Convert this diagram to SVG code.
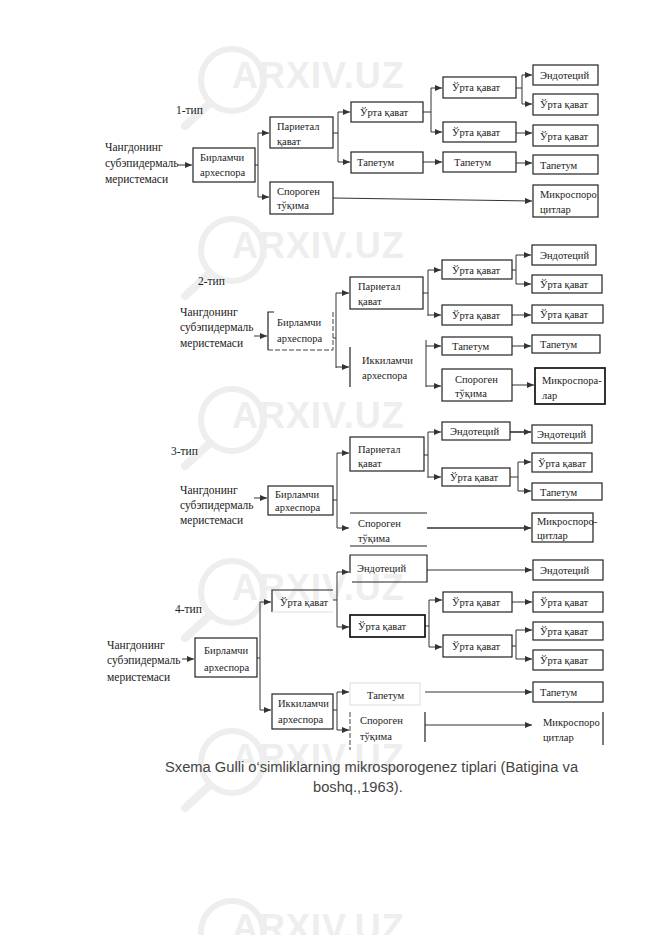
<svg xmlns="http://www.w3.org/2000/svg" width="661" height="935" viewBox="0 0 661 935">
<style>
.b{fill:none;stroke:#222;stroke-width:1.2}
.bb{fill:none;stroke:#111;stroke-width:1.7}
.f{fill:none;stroke:#ddd;stroke-width:1}
.d{fill:none;stroke:#444;stroke-width:1;stroke-dasharray:5 2}
.l{fill:none;stroke:#333;stroke-width:1}
.c{fill:none;stroke:#333;stroke-width:1;marker-end:url(#a)}
.t{font-family:"Liberation Serif","DejaVu Serif",serif;font-size:10.5px;fill:#222}
.s{font-family:"Liberation Serif","DejaVu Serif",serif;font-size:11.5px;fill:#222}
.cap{font-family:"Liberation Sans",Arial,sans-serif;font-size:14.7px;fill:#444}
.wt{font-family:"Liberation Sans",Arial,sans-serif;font-size:36px;font-weight:bold;fill:#eeeeee;letter-spacing:1px}
.wl{fill:none;stroke:#eeeeee;stroke-width:6;stroke-linecap:round}
</style>
<defs>
<marker id="a" viewBox="0 0 7 6" refX="7" refY="3" markerWidth="7" markerHeight="6" markerUnits="userSpaceOnUse" orient="auto"><path d="M0,0 L7,3 L0,6 z" fill="#333"/></marker>
<g id="wm">
<circle class="wl" cx="232" cy="-8" r="31"/>
<line class="wl" x1="210" y1="15" x2="185" y2="38" style="stroke-width:8"/>
<text class="wt" x="232" y="0">ARXIV.UZ</text>
</g>
</defs>
<rect width="661" height="935" fill="#fff"/>
<g id="watermark">
<use href="#wm" y="88"/>
<use href="#wm" y="258"/>
<use href="#wm" y="428"/>
<use href="#wm" y="600"/>
<use href="#wm" y="770"/>
<use href="#wm" y="940"/>
</g>

<g id="connectors">
<!-- type 1 -->
<path class="c" d="M178,165 H192"/>
<path class="l" d="M255,165 H258 M258,133 V197"/>
<path class="c" d="M258,133 H269"/><path class="c" d="M258,197 H269"/>
<path class="l" d="M333,133 H338 M338,112 V162"/>
<path class="c" d="M338,112 H350"/><path class="c" d="M338,162 H350"/>
<path class="l" d="M423,112 H431 M431,88 V132"/>
<path class="c" d="M431,88 H442"/><path class="c" d="M431,132 H442"/>
<path class="l" d="M516,88 H522 M522,75 V104"/>
<path class="c" d="M522,75 H532"/><path class="c" d="M522,104 H532"/>
<path class="c" d="M516,133 H532"/>
<path class="c" d="M423,162 H442"/>
<path class="c" d="M516,163 H532"/>
<path class="c" d="M333,198 L532,201"/>
<!-- type 2 -->
<path class="c" d="M254,336 H267"/>
<path class="l" d="M333,338 H336 M336,293 V368"/>
<path class="c" d="M336,293 H349"/><path class="c" d="M336,367 H349"/>
<path class="l" d="M423,293 H428 M428,270 V316"/>
<path class="c" d="M428,270 H441"/><path class="c" d="M428,315 H441"/>
<path class="l" d="M426,340 V387"/>
<path class="c" d="M426,346 H441"/><path class="c" d="M426,386 H441"/>
<path class="l" d="M512,270 H516 M516,255 V284"/>
<path class="c" d="M516,255 H531"/><path class="c" d="M516,284 H531"/>
<path class="c" d="M512,315 H531"/>
<path class="c" d="M512,346 H531"/>
<path class="c" d="M512,385 H534"/>
<!-- type 3 -->
<path class="c" d="M254,498 H267"/>
<path class="l" d="M333,500 H337 M337,453 V528"/>
<path class="c" d="M337,453 H349"/><path class="c" d="M337,528 H349"/>
<path class="l" d="M424,455 H428 M428,432 V478"/>
<path class="c" d="M428,432 H441"/><path class="c" d="M428,477 H441"/>
<path class="c" d="M510,432 H531" style="stroke-width:1.6"/>
<path class="l" d="M510,477 H518 M518,462 V491"/>
<path class="c" d="M518,462 H531"/><path class="c" d="M518,491 H531"/>
<path class="c" d="M427,528 H531" style="stroke-width:1.4"/>
<!-- type 4 -->
<path class="c" d="M182,659 H194"/>
<path class="l" d="M257,658 H260 M260,602 V710"/>
<path class="c" d="M260,602 H271"/><path class="c" d="M260,710 H271"/>
<path class="l" d="M333,600 H337 M337,572 V627"/>
<path class="c" d="M337,572 H349"/><path class="c" d="M337,627 H349"/>
<path class="l" d="M333,710 H337 M337,692 V730"/>
<path class="c" d="M337,692 H349"/><path class="c" d="M337,730 H349"/>
<path class="c" d="M427,570 H532"/>
<path class="l" d="M425,626 H429 M429,600 V647"/>
<path class="c" d="M429,600 H442"/><path class="c" d="M429,647 H442"/>
<path class="c" d="M512,602 H532"/>
<path class="l" d="M512,646 H516 M516,630 V659"/>
<path class="c" d="M516,630 H532"/><path class="c" d="M516,659 H532"/>
<path class="c" d="M425,692 H532"/>
<path class="c" d="M425,725 H532"/>
</g>

<!-- TYPE 1 -->
<g id="lbl1"><text class="s" x="176" y="114">1-тип</text></g>
<g id="src1"><text class="s" x="105" y="151">Чангдонинг</text><text class="s" x="105" y="167">субэпидермаль</text><text class="s" x="105" y="183">меристемаси</text></g>
<g id="B1"><rect class="b" x="193" y="148" width="62" height="34"/><text class="t" x="200" y="161">Бирламчи</text><text class="t" x="200" y="176">археспора</text></g>
<g id="P1"><rect class="b" x="270" y="117" width="63" height="31"/><text class="t" x="277" y="130">Париетал</text><text class="t" x="277" y="145">қават</text></g>
<g id="S1"><rect class="b" x="270" y="182" width="63" height="32"/><text class="t" x="277" y="195">Спороген</text><text class="t" x="277" y="209">тўқима</text></g>
<g id="U1"><rect class="b" x="351" y="102" width="72" height="20"/><text class="t" x="360" y="116">Ўрта қават</text></g>
<g id="T1"><rect class="b" x="351" y="152" width="72" height="21"/><text class="t" x="357" y="166">Тапетум</text></g>
<g id="U2"><rect class="b" x="443" y="77" width="73" height="21"/><text class="t" x="452" y="91">Ўрта қават</text></g>
<g id="U3"><rect class="b" x="443" y="122" width="73" height="20"/><text class="t" x="452" y="136">Ўрта қават</text></g>
<g id="T2"><rect class="b" x="443" y="152" width="73" height="20"/><text class="t" x="454" y="166">Тапетум</text></g>
<g id="E1"><rect class="b" x="533" y="65" width="65" height="20"/><text class="t" x="540" y="79">Эндотеций</text></g>
<g id="U4"><rect class="b" x="533" y="94" width="65" height="21"/><text class="t" x="540" y="108">Ўрта қават</text></g>
<g id="U5"><rect class="b" x="533" y="125" width="65" height="21"/><text class="t" x="540" y="140">Ўрта қават</text></g>
<g id="T3"><rect class="b" x="533" y="155" width="65" height="19"/><text class="t" x="540" y="169">Тапетум</text></g>
<g id="M1"><rect class="b" x="533" y="185" width="65" height="32"/><text class="t" x="540" y="198">Микроспоро</text><text class="t" x="540" y="213">цитлар</text></g>

<!-- TYPE 2 -->
<g id="lbl2"><text class="s" x="198" y="285">2-тип</text></g>
<g id="src2"><text class="s" x="180" y="316">Чангдонинг</text><text class="s" x="180" y="331">субэпидермаль</text><text class="s" x="180" y="347">меристемаси</text></g>
<g id="B2"><path class="b" d="M274,312 H268 V350"/><path class="d" d="M268,350 H333 M333,312 V350"/><text class="t" x="277" y="326">Бирламчи</text><text class="t" x="277" y="342">археспора</text></g>
<g id="P2"><rect class="b" x="350" y="277" width="73" height="32"/><text class="t" x="358" y="290">Париетал</text><text class="t" x="358" y="305">қават</text></g>
<g id="I2"><path class="b" d="M350,347 V387"/><text class="t" x="362" y="364">Иккиламчи</text><text class="t" x="362" y="379">археспора</text></g>
<g id="U6"><rect class="b" x="442" y="260" width="70" height="19"/><text class="t" x="452" y="274">Ўрта қават</text></g>
<g id="U7"><rect class="b" x="442" y="305" width="70" height="20"/><text class="t" x="452" y="319">Ўрта қават</text></g>
<g id="T4"><rect class="b" x="442" y="337" width="70" height="18"/><text class="t" x="452" y="350">Тапетум</text></g>
<g id="S2"><rect class="b" x="442" y="369" width="70" height="32"/><text class="t" x="455" y="383">Спороген</text><text class="t" x="455" y="397">тўқима</text></g>
<g id="E2"><rect class="b" x="532" y="245" width="64" height="20"/><text class="t" x="540" y="259">Эндотеций</text></g>
<g id="U8"><rect class="b" x="532" y="275" width="70" height="18"/><text class="t" x="540" y="288">Ўрта қават</text></g>
<g id="U9"><rect class="b" x="532" y="305" width="71" height="18"/><text class="t" x="540" y="318">Ўрта қават</text></g>
<g id="T5"><rect class="b" x="532" y="335" width="68" height="18"/><text class="t" x="540" y="348">Тапетум</text></g>
<g id="M2"><rect class="bb" x="535" y="368" width="70" height="36"/><text class="t" x="542" y="384">Микроспора-</text><text class="t" x="542" y="399">лар</text></g>

<!-- TYPE 3 -->
<g id="lbl3"><text class="s" x="171" y="455">3-тип</text></g>
<g id="src3"><text class="s" x="180" y="494">Чангдонинг</text><text class="s" x="180" y="509">субэпидермаль</text><text class="s" x="180" y="524">меристемаси</text></g>
<g id="B3"><rect class="b" x="268" y="486" width="65" height="29"/><text class="t" x="275" y="498">Бирламчи</text><text class="t" x="275" y="511">археспора</text></g>
<g id="P3"><rect class="b" x="350" y="437" width="74" height="34"/><text class="t" x="358" y="453">Париетал</text><text class="t" x="358" y="467">қават</text></g>
<g id="S3"><path class="b" d="M350,513 H427 M350,546 H427"/><text class="t" x="358" y="527">Спороген</text><text class="t" x="358" y="542">тўқима</text></g>
<g id="E3"><rect class="b" x="442" y="422" width="68" height="18"/><text class="t" x="450" y="435">Эндотеций</text></g>
<g id="U10"><rect class="b" x="442" y="468" width="68" height="18"/><text class="t" x="450" y="481">Ўрта қават</text></g>
<g id="E4"><rect class="b" x="532" y="425" width="60" height="18"/><text class="t" x="537" y="438">Эндотеций</text></g>
<g id="U11"><rect class="b" x="532" y="453" width="60" height="19"/><text class="t" x="538" y="467">Ўрта қават</text></g>
<g id="T6"><rect class="b" x="532" y="483" width="70" height="17"/><text class="t" x="540" y="496">Тапетум</text></g>
<g id="M3"><rect class="b" x="532" y="513" width="61" height="29"/><text class="t" x="537" y="525">Микроспоро-</text><text class="t" x="537" y="539">цитлар</text></g>

<!-- TYPE 4 -->
<g id="lbl4"><text class="s" x="175" y="613">4-тип</text></g>
<g id="src4"><text class="s" x="107" y="649">Чангдонинг</text><text class="s" x="107" y="664">субэпидермаль</text><text class="s" x="107" y="681">меристемаси</text></g>
<g id="B4"><rect class="b" x="195" y="638" width="62" height="39"/><text class="t" x="204" y="654">Бирламчи</text><text class="t" x="204" y="671">археспора</text></g>
<g id="U12"><path class="b" d="M333,590 H272 V612"/><path class="f" d="M272,612 H333"/><text class="t" x="280" y="606">Ўрта қават</text></g>
<g id="I4"><rect class="b" x="272" y="694" width="61" height="35"/><text class="t" x="278" y="707">Иккиламчи</text><text class="t" x="278" y="723">археспора</text></g>
<g id="E5"><path class="b" d="M350,573 V555 H427 V582 H352"/><text class="t" x="357" y="572">Эндотеций</text></g>
<g id="U13"><rect class="bb" x="350" y="615" width="75" height="22"/><text class="t" x="358" y="630">Ўрта қават</text></g>
<g id="T7"><rect class="f" x="350" y="683" width="70" height="22"/><text class="t" x="367" y="699">Тапетум</text></g>
<g id="S4"><path class="d" d="M350,712 V750"/><path class="b" d="M425,712 V742"/><text class="t" x="360" y="724">Спороген</text><text class="t" x="360" y="740">тўқима</text></g>
<g id="E6"><rect class="b" x="533" y="560" width="70" height="20"/><text class="t" x="540" y="574">Эндотеций</text></g>
<g id="U14"><rect class="b" x="443" y="592" width="69" height="20"/><text class="t" x="452" y="606">Ўрта қават</text></g>
<g id="U15"><rect class="b" x="443" y="635" width="69" height="22"/><text class="t" x="452" y="650">Ўрта қават</text></g>
<g id="U16"><rect class="b" x="533" y="592" width="70" height="20"/><text class="t" x="540" y="606">Ўрта қават</text></g>
<g id="U17"><rect class="b" x="533" y="622" width="70" height="18"/><text class="t" x="540" y="635">Ўрта қават</text></g>
<g id="U18"><rect class="b" x="533" y="650" width="70" height="20"/><text class="t" x="540" y="664">Ўрта қават</text></g>
<g id="T8"><rect class="b" x="533" y="682" width="70" height="20"/><text class="t" x="540" y="696">Тапетум</text></g>
<g id="M4"><path class="b" d="M603,712 V745"/><text class="t" x="543" y="726">Микроспоро</text><text class="t" x="543" y="741">цитлар</text></g>

<g id="caption">
<text class="cap" x="165" y="772">Sxema Gulli o‘simliklarning mikrosporogenez tiplari (Batigina va</text>
<text class="cap" x="313" y="792">boshq.,1963).</text>
</g>
</svg>
